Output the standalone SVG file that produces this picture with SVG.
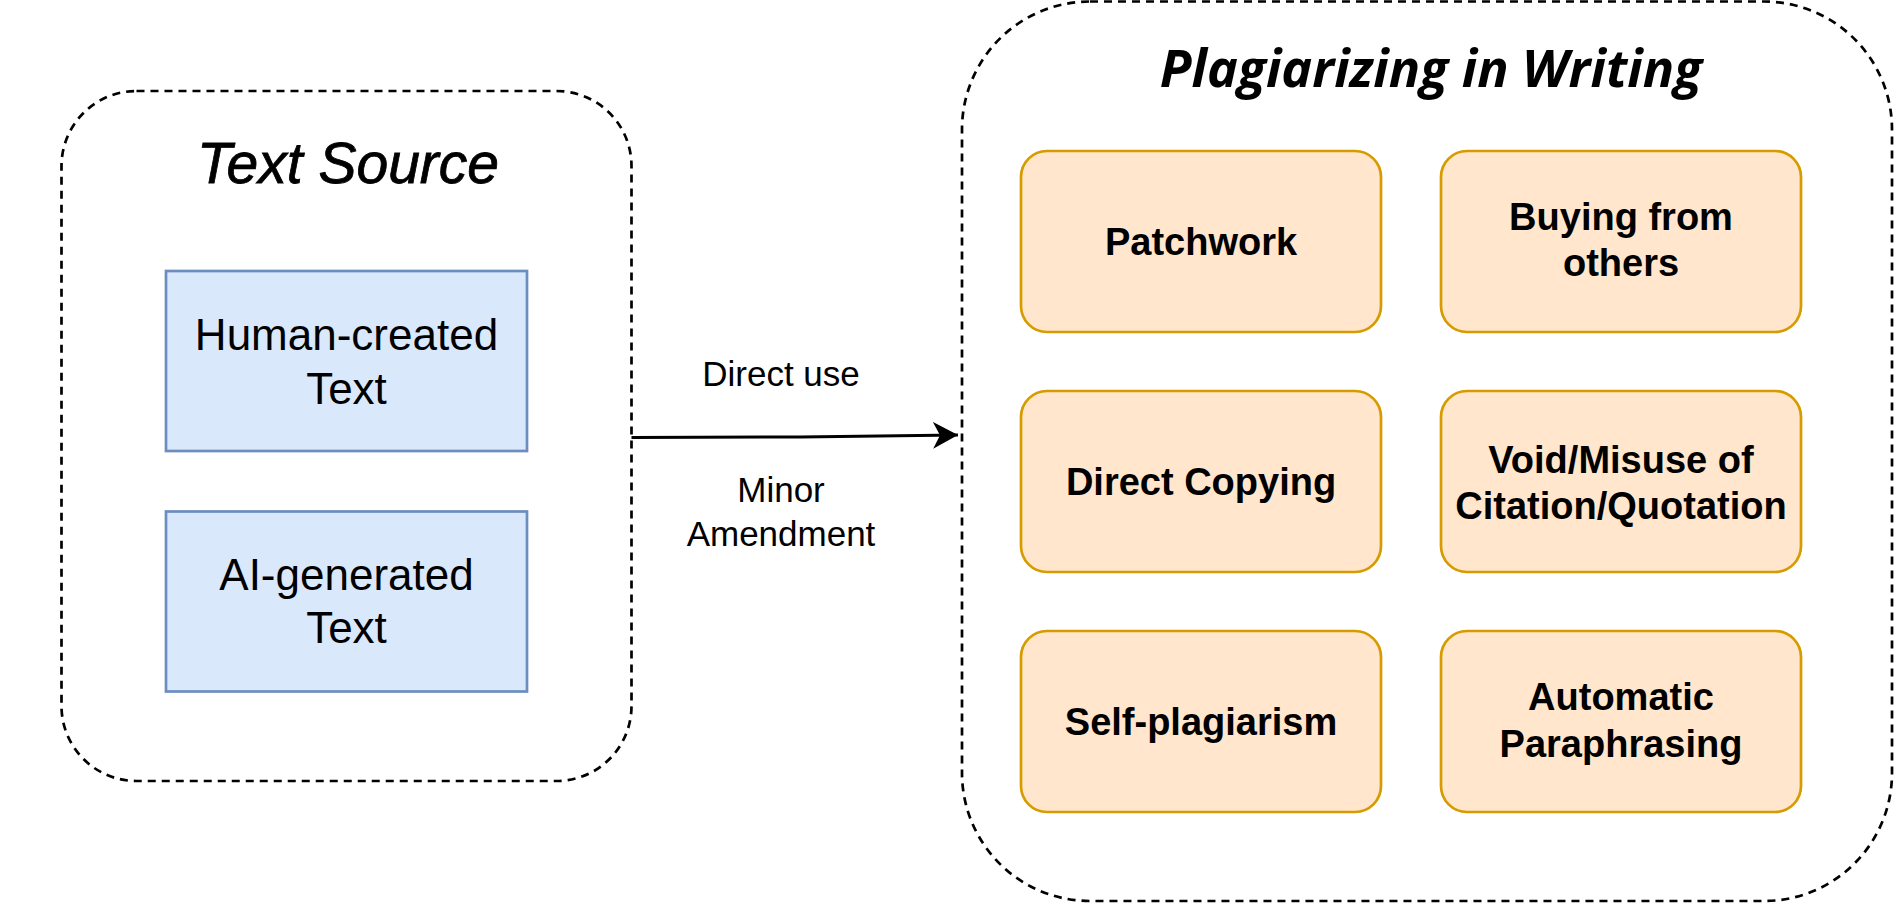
<svg xmlns="http://www.w3.org/2000/svg" width="1896" height="906" viewBox="0 0 1896 906">
  <style>
    .container { fill: #ffffff; stroke: #000000; stroke-width: 2.7; stroke-dasharray: 8 6; }
    .blue { fill: #dae8fc; stroke: #6c8ebf; stroke-width: 2.7; }
    .orange { fill: #ffe6cc; stroke: #d79b00; stroke-width: 2.7; }
    .title1 { font-family: "Liberation Sans", Arial, sans-serif; font-style: italic; font-size: 57px; fill: #000; stroke: #000; stroke-width: 0.8; }
    .title2 { font-family: "Open Sans", "Noto Sans", sans-serif; font-style: italic; font-weight: 700; font-size: 52px; fill: #000; }
    .btxt { font-family: "Liberation Sans", Arial, sans-serif; font-size: 44px; fill: #000; }
    .otxt { font-family: "Liberation Sans", Arial, sans-serif; font-weight: bold; font-size: 38px; fill: #000; }
    .ltxt { font-family: "Liberation Sans", Arial, sans-serif; font-size: 35px; fill: #000; }
    .edge { fill: none; stroke: #000; stroke-width: 3; }
  </style>
  <defs>
    <marker id="arrow" markerUnits="userSpaceOnUse" markerWidth="26" markerHeight="28" refX="25" refY="14" orient="auto">
      <path d="M0,0.5 L25,14 L0,27.5 L7,14 Z" fill="#000"/>
    </marker>
  </defs>
  <rect width="1896" height="906" fill="#ffffff"/>

  <g id="text-source">
    <rect class="container" x="61.5" y="91" width="570" height="690" rx="75" ry="75"/>
    <text class="title1" x="348" y="183" text-anchor="middle">Text Source</text>
  </g>

  <g id="human-created">
    <rect class="blue" x="166" y="271" width="361" height="180"/>
    <text class="btxt" text-anchor="middle"><tspan x="346.5" y="350">Human-created</tspan><tspan x="346.5" y="404">Text</tspan></text>
  </g>

  <g id="ai-generated">
    <rect class="blue" x="166" y="511.5" width="361" height="180"/>
    <text class="btxt" text-anchor="middle"><tspan x="346.5" y="590">AI-generated</tspan><tspan x="346.5" y="643">Text</tspan></text>
  </g>

  <g id="plagiarizing">
    <rect class="container" x="962" y="1.5" width="930" height="899.5" rx="128" ry="128"/>
    <text class="title2" x="1431" y="87" text-anchor="middle">Plagiarizing in Writing</text>
  </g>

  <g id="patchwork">
    <rect class="orange" x="1021" y="151" width="360" height="181" rx="26" ry="26"/>
    <text class="otxt" x="1201" y="255" text-anchor="middle">Patchwork</text>
  </g>
  <g id="buying">
    <rect class="orange" x="1441" y="151" width="360" height="181" rx="26" ry="26"/>
    <text class="otxt" text-anchor="middle"><tspan x="1621" y="230">Buying from</tspan><tspan x="1621" y="276">others</tspan></text>
  </g>
  <g id="direct-copying">
    <rect class="orange" x="1021" y="391" width="360" height="181" rx="26" ry="26"/>
    <text class="otxt" x="1201" y="494.5" text-anchor="middle">Direct Copying</text>
  </g>
  <g id="void-misuse">
    <rect class="orange" x="1441" y="391" width="360" height="181" rx="26" ry="26"/>
    <text class="otxt" text-anchor="middle"><tspan x="1621" y="472.5">Void/Misuse of</tspan><tspan x="1621" y="518.5">Citation/Quotation</tspan></text>
  </g>
  <g id="self-plagiarism">
    <rect class="orange" x="1021" y="631" width="360" height="181" rx="26" ry="26"/>
    <text class="otxt" x="1201" y="734.5" text-anchor="middle">Self-plagiarism</text>
  </g>
  <g id="automatic-paraphrasing">
    <rect class="orange" x="1441" y="631" width="360" height="181" rx="26" ry="26"/>
    <text class="otxt" text-anchor="middle"><tspan x="1621" y="710">Automatic</tspan><tspan x="1621" y="756.5">Paraphrasing</tspan></text>
  </g>

  <g id="connectors">
    <path class="edge" d="M631.5,437.5 L800,437 L958,435" marker-end="url(#arrow)"/>
    <text class="ltxt" x="781" y="386" text-anchor="middle">Direct use</text>
    <text class="ltxt" text-anchor="middle"><tspan x="781" y="502">Minor</tspan><tspan x="781" y="546">Amendment</tspan></text>
  </g>
</svg>
